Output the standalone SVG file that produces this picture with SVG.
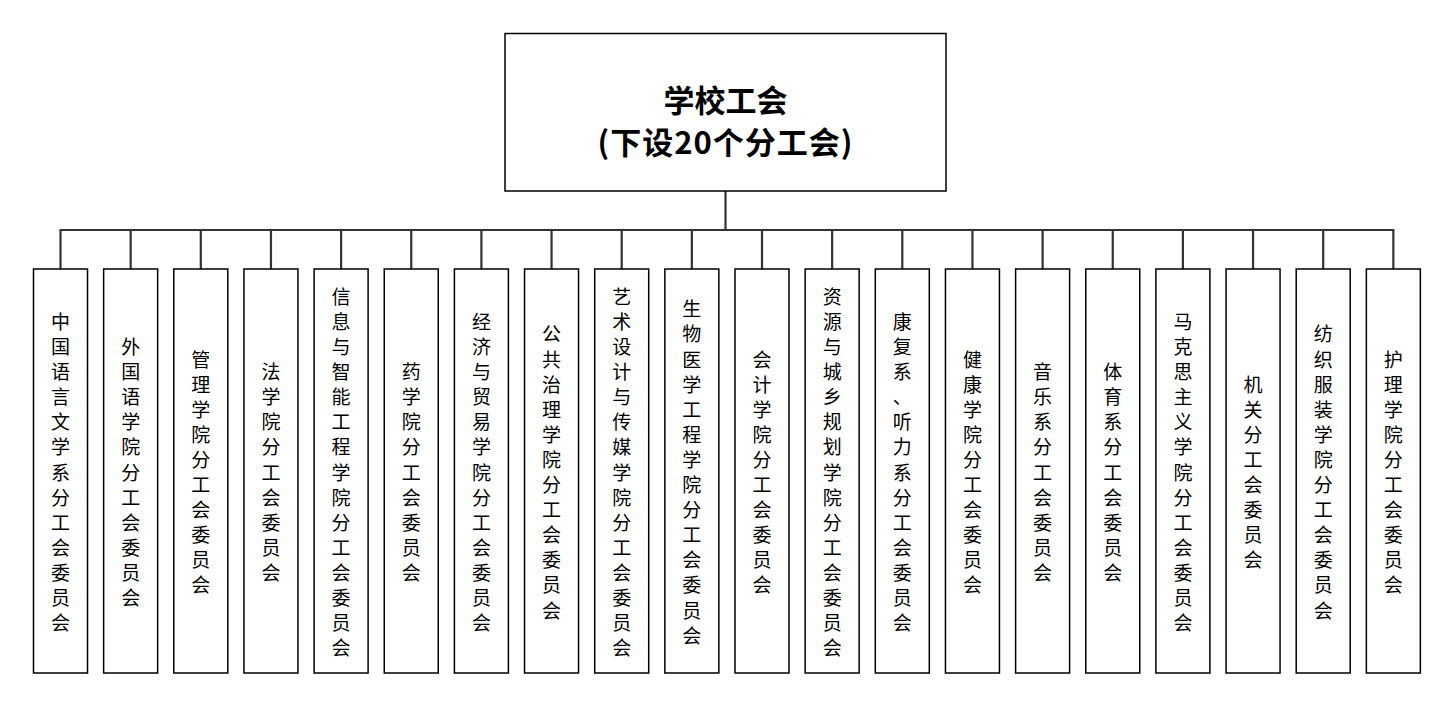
<svg xmlns="http://www.w3.org/2000/svg" width="1454" height="708" viewBox="0 0 1454 708">
<style>
.box{fill:#fff;stroke:#000;stroke-width:1.5}
.con{fill:none;stroke:#333;stroke-width:2.2}
.lbl{font-family:"Noto Sans CJK SC","Noto Sans",sans-serif;font-size:19px;text-anchor:middle;dominant-baseline:central;fill:#000}
.title{font-family:"Noto Sans CJK SC","Noto Sans",sans-serif;font-size:31px;font-weight:bold;text-anchor:middle;dominant-baseline:central;fill:#000}
</style>
<rect width="1454" height="708" fill="#fff"/>
<g id="connectors">
<path class="con" d="M725.5 191V230M60.5 230H1393.35M60.5 229V269M130.65 230V269M200.8 230V269M270.95 230V269M341.1 230V269M411.25 230V269M481.4 230V269M551.55 230V269M621.7 230V269M691.85 230V269M762 230V269M832.15 230V269M902.3 230V269M972.45 230V269M1042.6 230V269M1112.75 230V269M1182.9 230V269M1253.05 230V269M1323.2 230V269M1393.35 229V269"/>
</g>
<g id="root">
<rect class="box" x="505" y="33.5" width="441" height="157.5"/>
<text class="title" x="725.5" y="98">学校工会</text>
<text class="title" x="725.5" y="140" letter-spacing="1">(下设20个分工会)</text>
</g>
<g id="n1" transform="translate(60.5,0)"><rect class="box" x="-27" y="269" width="54" height="404"/>
<text class="lbl" x="0 0 0 0 0 0 0 0 0 0 0 0 0" y="320.4" dy="0 25.1 25.1 25.1 25.1 25.1 25.1 25.1 25.1 25.1 25.1 25.1 25.1">中国语言文学系分工会委员会</text></g>
<g id="n2" transform="translate(130.65,0)"><rect class="box" x="-27" y="269" width="54" height="404"/>
<text class="lbl" x="0 0 0 0 0 0 0 0 0 0 0" y="345.5" dy="0 25.1 25.1 25.1 25.1 25.1 25.1 25.1 25.1 25.1 25.1">外国语学院分工会委员会</text></g>
<g id="n3" transform="translate(200.8,0)"><rect class="box" x="-27" y="269" width="54" height="404"/>
<text class="lbl" x="0 0 0 0 0 0 0 0 0 0" y="358.05" dy="0 25.1 25.1 25.1 25.1 25.1 25.1 25.1 25.1 25.1">管理学院分工会委员会</text></g>
<g id="n4" transform="translate(270.95,0)"><rect class="box" x="-27" y="269" width="54" height="404"/>
<text class="lbl" x="0 0 0 0 0 0 0 0 0" y="370.6" dy="0 25.1 25.1 25.1 25.1 25.1 25.1 25.1 25.1">法学院分工会委员会</text></g>
<g id="n5" transform="translate(341.1,0)"><rect class="box" x="-27" y="269" width="54" height="404"/>
<text class="lbl" x="0 0 0 0 0 0 0 0 0 0 0 0 0 0 0" y="295.3" dy="0 25.1 25.1 25.1 25.1 25.1 25.1 25.1 25.1 25.1 25.1 25.1 25.1 25.1 25.1">信息与智能工程学院分工会委员会</text></g>
<g id="n6" transform="translate(411.25,0)"><rect class="box" x="-27" y="269" width="54" height="404"/>
<text class="lbl" x="0 0 0 0 0 0 0 0 0" y="370.6" dy="0 25.1 25.1 25.1 25.1 25.1 25.1 25.1 25.1">药学院分工会委员会</text></g>
<g id="n7" transform="translate(481.4,0)"><rect class="box" x="-27" y="269" width="54" height="404"/>
<text class="lbl" x="0 0 0 0 0 0 0 0 0 0 0 0 0" y="320.4" dy="0 25.1 25.1 25.1 25.1 25.1 25.1 25.1 25.1 25.1 25.1 25.1 25.1">经济与贸易学院分工会委员会</text></g>
<g id="n8" transform="translate(551.55,0)"><rect class="box" x="-27" y="269" width="54" height="404"/>
<text class="lbl" x="0 0 0 0 0 0 0 0 0 0 0 0" y="332.95" dy="0 25.1 25.1 25.1 25.1 25.1 25.1 25.1 25.1 25.1 25.1 25.1">公共治理学院分工会委员会</text></g>
<g id="n9" transform="translate(621.7,0)"><rect class="box" x="-27" y="269" width="54" height="404"/>
<text class="lbl" x="0 0 0 0 0 0 0 0 0 0 0 0 0 0 0" y="295.3" dy="0 25.1 25.1 25.1 25.1 25.1 25.1 25.1 25.1 25.1 25.1 25.1 25.1 25.1 25.1">艺术设计与传媒学院分工会委员会</text></g>
<g id="n10" transform="translate(691.85,0)"><rect class="box" x="-27" y="269" width="54" height="404"/>
<text class="lbl" x="0 0 0 0 0 0 0 0 0 0 0 0 0 0" y="307.85" dy="0 25.1 25.1 25.1 25.1 25.1 25.1 25.1 25.1 25.1 25.1 25.1 25.1 25.1">生物医学工程学院分工会委员会</text></g>
<g id="n11" transform="translate(762,0)"><rect class="box" x="-27" y="269" width="54" height="404"/>
<text class="lbl" x="0 0 0 0 0 0 0 0 0 0" y="358.05" dy="0 25.1 25.1 25.1 25.1 25.1 25.1 25.1 25.1 25.1">会计学院分工会委员会</text></g>
<g id="n12" transform="translate(832.15,0)"><rect class="box" x="-27" y="269" width="54" height="404"/>
<text class="lbl" x="0 0 0 0 0 0 0 0 0 0 0 0 0 0 0" y="295.3" dy="0 25.1 25.1 25.1 25.1 25.1 25.1 25.1 25.1 25.1 25.1 25.1 25.1 25.1 25.1">资源与城乡规划学院分工会委员会</text></g>
<g id="n13" transform="translate(902.3,0)"><rect class="box" x="-27" y="269" width="54" height="404"/>
<text class="lbl" x="0 0 0 0 0 0 0 0 0 0 0 0 0" y="320.4" dy="0 25.1 25.1 25.1 25.1 25.1 25.1 25.1 25.1 25.1 25.1 25.1 25.1">康复系、听力系分工会委员会</text></g>
<g id="n14" transform="translate(972.45,0)"><rect class="box" x="-27" y="269" width="54" height="404"/>
<text class="lbl" x="0 0 0 0 0 0 0 0 0 0" y="358.05" dy="0 25.1 25.1 25.1 25.1 25.1 25.1 25.1 25.1 25.1">健康学院分工会委员会</text></g>
<g id="n15" transform="translate(1042.6,0)"><rect class="box" x="-27" y="269" width="54" height="404"/>
<text class="lbl" x="0 0 0 0 0 0 0 0 0" y="370.6" dy="0 25.1 25.1 25.1 25.1 25.1 25.1 25.1 25.1">音乐系分工会委员会</text></g>
<g id="n16" transform="translate(1112.75,0)"><rect class="box" x="-27" y="269" width="54" height="404"/>
<text class="lbl" x="0 0 0 0 0 0 0 0 0" y="370.6" dy="0 25.1 25.1 25.1 25.1 25.1 25.1 25.1 25.1">体育系分工会委员会</text></g>
<g id="n17" transform="translate(1182.9,0)"><rect class="box" x="-27" y="269" width="54" height="404"/>
<text class="lbl" x="0 0 0 0 0 0 0 0 0 0 0 0 0" y="320.4" dy="0 25.1 25.1 25.1 25.1 25.1 25.1 25.1 25.1 25.1 25.1 25.1 25.1">马克思主义学院分工会委员会</text></g>
<g id="n18" transform="translate(1253.05,0)"><rect class="box" x="-27" y="269" width="54" height="404"/>
<text class="lbl" x="0 0 0 0 0 0 0 0" y="383.15" dy="0 25.1 25.1 25.1 25.1 25.1 25.1 25.1">机关分工会委员会</text></g>
<g id="n19" transform="translate(1323.2,0)"><rect class="box" x="-27" y="269" width="54" height="404"/>
<text class="lbl" x="0 0 0 0 0 0 0 0 0 0 0 0" y="332.95" dy="0 25.1 25.1 25.1 25.1 25.1 25.1 25.1 25.1 25.1 25.1 25.1">纺织服装学院分工会委员会</text></g>
<g id="n20" transform="translate(1393.35,0)"><rect class="box" x="-27" y="269" width="54" height="404"/>
<text class="lbl" x="0 0 0 0 0 0 0 0 0 0" y="358.05" dy="0 25.1 25.1 25.1 25.1 25.1 25.1 25.1 25.1 25.1">护理学院分工会委员会</text></g>
</svg>
